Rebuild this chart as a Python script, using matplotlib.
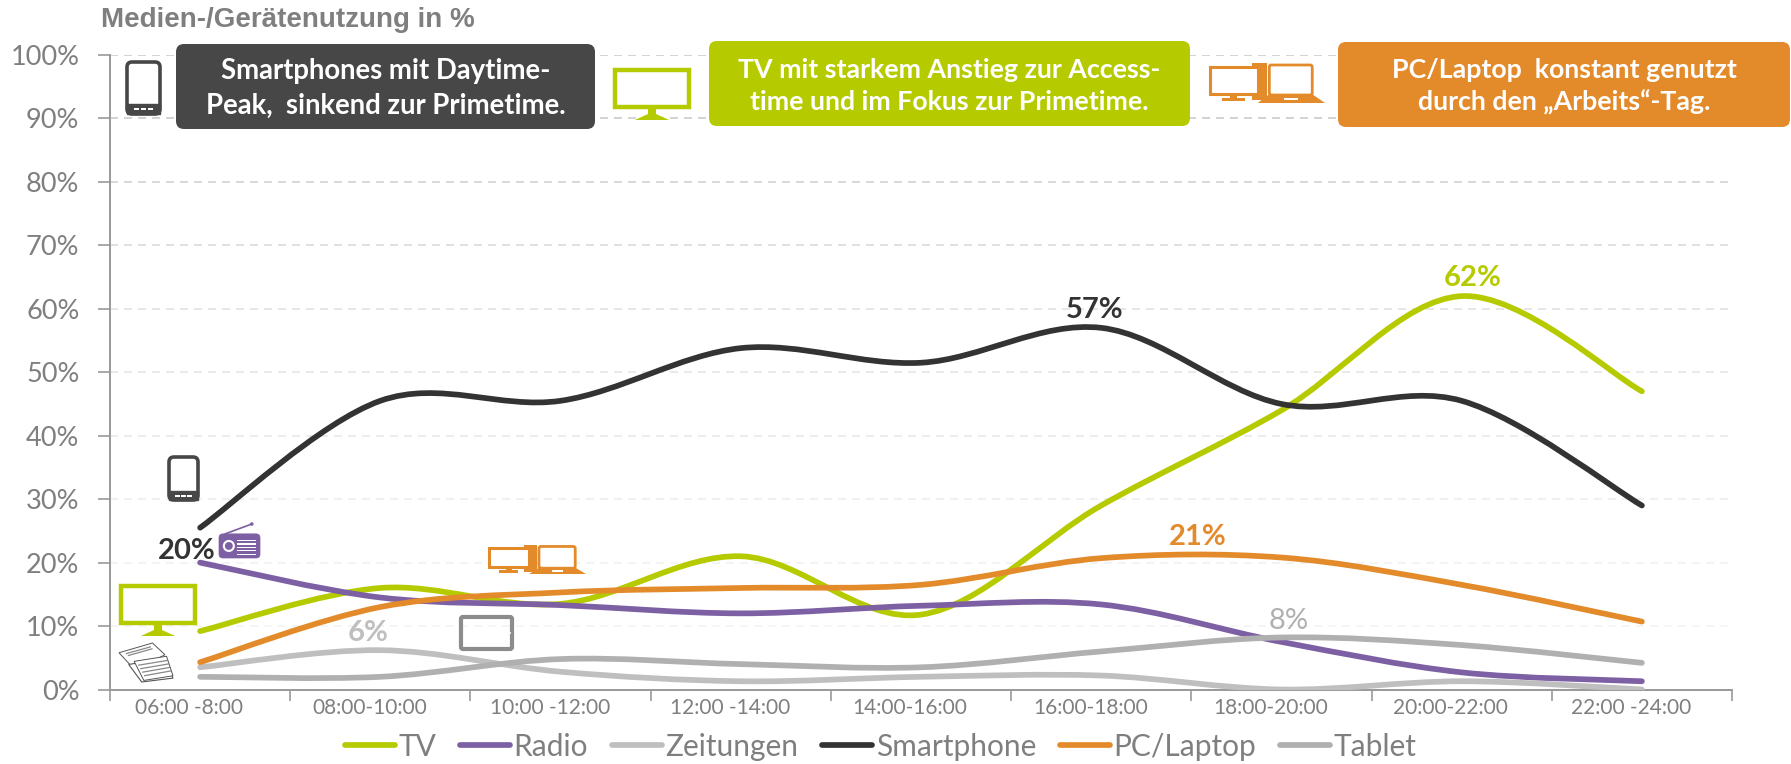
import numpy as np
import matplotlib
matplotlib.use("Agg")
import matplotlib.pyplot as plt
from matplotlib.path import Path
from matplotlib.patches import PathPatch, FancyBboxPatch, Rectangle, Polygon, Circle
from matplotlib.lines import Line2D

W, H = 1791, 764

slots = ["06:00 -8:00", "08:00-10:00", "10:00 -12:00", "12:00 -14:00", "14:00-16:00",
         "16:00-18:00", "18:00-20:00", "20:00-22:00", "22:00 -24:00"]

tv = [9.2, 16, 13.5, 21, 11.8, 29, 44, 62, 47]
radio = [20, 14.5, 13.3, 12, 13.2, 13.4, 7.5, 2.7, 1.3]
zeitungen = [3.5, 6.2, 2.8, 1.3, 2.0, 2.2, 0, 1.3, 0]
smartphone = [25.5, 45.5, 45.5, 53.8, 51.5, 57, 45, 45.5, 29]
pc_laptop = [4.3, 13, 15.3, 16, 16.5, 20.7, 20.8, 16.5, 10.7]
tablet = [2, 2, 4.8, 4, 3.5, 6, 8.2, 7, 4.2]

GREEN = "#B5CB00"
PURPLE = "#7D5FA3"
LIGHT = "#BFBFBF"
DARK = "#333333"
ORANGE = "#E38A2B"
MID = "#B0B0B0"
TXT = "#7F7F7F"

names = ["TV", "Radio", "Zeitungen", "Smartphone", "PC/Laptop", "Tablet"]
series = [tv, radio, zeitungen, smartphone, pc_laptop, tablet]
colors = [GREEN, PURPLE, LIGHT, DARK, ORANGE, MID]

# the grid gets paler towards the bottom in the original
grid_colors = ["#FFFFFF", "#F3F3F3", "#F1F1F1", "#EDEDED", "#E9E9E9", "#E5E5E5", "#E1E1E1", "#DBDBDB", "#D2D2D2",
               "#CCCCCC", "#CCCCCC"]


def smooth_path(xs, ys):
    # same idea as the "smoothed line" of office charts, bezier through the points
    pts = np.column_stack([xs, ys])
    verts = [pts[0]]
    codes = [Path.MOVETO]
    n = len(pts)
    for i in range(n - 1):
        prev = pts[max(i - 1, 0)]
        nxt = pts[min(i + 2, n - 1)]
        verts.append(pts[i] + (pts[i + 1] - prev) / 6)
        verts.append(pts[i + 1] - (nxt - pts[i]) / 6)
        verts.append(pts[i + 1])
        codes += [Path.CURVE4] * 3
    return Path(verts, codes)


fig = plt.figure(figsize=(W / 100, H / 100), dpi=100)
ax = fig.add_axes([110 / W, 1 - 689.5 / H, (1732 - 110) / W, (689.5 - 55) / H])

x = np.arange(len(slots)) + 0.5
for vals, col in zip(series, colors):
    ax.add_patch(PathPatch(smooth_path(x, vals), fc="none", ec=col, lw=4.1, capstyle="round", zorder=3))

ax.set_xlim(0, len(slots))
ax.set_ylim(0, 100)
ax.set_yticks(range(0, 101, 10))
ax.set_yticklabels([f"{v}%" for v in range(0, 101, 10)], family="Lato", fontsize=19.5, color=TXT)
ax.set_xticks(range(len(slots) + 1))
ax.set_xticklabels([])
# labels sit a little left of the points in the original
ax.set_xticks(x - 0.06, minor=True)
ax.set_xticklabels(slots, minor=True, family="Lato", fontsize=15, color=TXT)
ax.tick_params(axis="x", which="minor", length=0, pad=6)
ax.tick_params(axis="x", which="major", length=8, width=1.2, color="#999999")
ax.tick_params(axis="y", length=9, width=1.2, color="#999999", pad=13)
for s in ["top", "right"]:
    ax.spines[s].set_visible(False)
for s in ["left", "bottom"]:
    ax.spines[s].set_color("#999999")
    ax.spines[s].set_linewidth(1.4)
ax.yaxis.grid(True, lw=1.2, ls=(0, (4.8, 3.6)))
for line, c in zip(ax.get_ygridlines(), grid_colors):
    line.set_color(c)
ax.set_axisbelow(True)

handles = [Line2D([], [], color=c, lw=4.1, solid_capstyle="round") for c in colors]
ax.legend(handles, names, loc="upper center", bbox_to_anchor=(0.475, -0.068), ncols=6, frameon=False,
          prop={"family": "Lato", "size": 21.5}, labelcolor=TXT, handlelength=1.67, handletextpad=0.12,
          columnspacing=0.8, borderpad=0, borderaxespad=0)

# overlay in pixels for the boxes, icons and texts
ov = fig.add_axes([0, 0, 1, 1], zorder=5)
ov.set_xlim(0, W)
ov.set_ylim(H, 0)
ov.axis("off")
ov.patch.set_alpha(0)


def box(x0, y0, x1, y1, col, text, size):
    ov.add_patch(FancyBboxPatch((x0 + 8, y0 + 8), x1 - x0 - 16, y1 - y0 - 16, boxstyle="round,pad=8,rounding_size=8",
                                fc=col, ec="none", mutation_aspect=1))
    ov.text((x0 + x1) / 2, (y0 + y1) / 2 + 2, text, color="white", family="Lato", weight="bold", fontsize=size,
            ha="center", va="center", linespacing=1.4)


def rr(x0, y0, w, h, col, lw=3, fill="none", r=4):
    ov.add_patch(FancyBboxPatch((x0 + r, y0 + r), w - 2 * r, h - 2 * r, boxstyle=f"round,pad={r},rounding_size={r}",
                                fc=fill, ec=col, lw=lw))


def phone(x0, y0, w, h, col):
    rr(x0, y0, w, h, col, lw=2.6, r=5)
    ov.add_patch(Rectangle((x0, y0 + h * 0.8), w, h * 0.2, fc=col, ec=col, lw=1))
    for f in [0.28, 0.5, 0.72]:
        ov.add_patch(Rectangle((x0 + w * f - 2.5, y0 + h * 0.89), 5, 2, fc="white", ec="none"))


def monitor(x0, y0, w, h, col):
    sh = h * 0.78
    ov.add_patch(Rectangle((x0 + 2, y0 + 2), w - 4, sh - 4, fc="white", ec=col, lw=3.2))
    cx = x0 + w / 2
    ov.add_patch(Polygon([(cx - 4, y0 + sh), (cx + 4, y0 + sh), (cx + 4, y0 + h - 6), (cx + w * 0.22, y0 + h),
                          (cx - w * 0.22, y0 + h), (cx - 4, y0 + h - 6)], fc=col, ec="none"))


def computers(x0, y0, w, h, col):
    # desktop, tower and laptop
    ov.add_patch(Rectangle((x0 + w * 0.37, y0), w * 0.13, h * 0.93, fc=col, ec="none"))
    ov.add_patch(Rectangle((x0 + 1, y0 + h * 0.1), w * 0.41, h * 0.67, fc="white", ec=col, lw=2.2))
    ov.add_patch(Rectangle((x0 + w * 0.18, y0 + h * 0.77), w * 0.06, h * 0.1, fc=col, ec="none"))
    ov.add_patch(Rectangle((x0 + w * 0.11, y0 + h * 0.87), w * 0.2, h * 0.08, fc=col, ec="none"))
    rr(x0 + w * 0.52, y0 + h * 0.05, w * 0.37, h * 0.75, col, lw=2, fill="white", r=2)
    ov.add_patch(Polygon([(x0 + w * 0.52, y0 + h * 0.78), (x0 + w * 0.89, y0 + h * 0.78), (x0 + w, y0 + h),
                         (x0 + w * 0.42, y0 + h)], fc=col, ec="none"))
    ov.add_patch(Rectangle((x0 + w * 0.65, y0 + h * 0.87), w * 0.12, h * 0.05, fc="white", ec="none"))


def radio_icon(x0, y0, w, h, col):
    top = y0 + h * 0.33
    ov.add_line(Line2D([x0 + w * 0.15, x0 + w * 0.8], [top, y0 + 2], color=col, lw=1.2))
    ov.add_patch(Circle((x0 + w * 0.8, y0 + 2), 1.8, fc=col, ec="none"))
    rr(x0, top, w, y0 + h - top, col, lw=0.5, fill=col, r=4)
    ov.add_patch(Circle((x0 + w * 0.24, top + (y0 + h - top) * 0.5), 5, fc=col, ec="white", lw=1.5))
    for f in [0.28, 0.42, 0.56, 0.7, 0.84]:
        ov.add_patch(Rectangle((x0 + w * 0.45, top + (y0 + h - top) * f - 0.6), w * 0.46, 1.2, fc="white", ec="none"))


def tablet_icon(x0, y0, w, h, col):
    rr(x0 + 1, y0 + 1, w - 2, h - 2, col, lw=3, r=2)
    ov.add_patch(Circle((x0 + w - 3, y0 + h / 2), 1, fc="white", ec="none"))


def newspaper(x0, y0, w, h):
    c = "#555555"
    ov.add_patch(Polygon([(x0, y0 + h * 0.25), (x0 + w * 0.62, y0), (x0 + w * 0.85, y0 + h * 0.3), (x0 + w * 0.3, y0 + h * 0.7)],
                         fc="white", ec=c, lw=0.7))
    ov.add_patch(Polygon([(x0 + w * 0.18, y0 + h * 0.55), (x0 + w * 0.84, y0 + h * 0.4), (x0 + w, y0 + h * 0.9),
                          (x0 + w * 0.42, y0 + h)], fc="white", ec=c, lw=0.8))
    ov.add_patch(Polygon([(x0 + w * 0.28, y0 + h * 0.47), (x0 + w * 0.88, y0 + h * 0.34), (x0 + w, y0 + h * 0.84),
                          (x0 + w * 0.46, y0 + h * 0.96)], fc="white", ec=c, lw=0.7))
    for f in [0.15, 0.35, 0.55, 0.75]:
        ov.add_line(Line2D([x0 + w * (0.34 + f * 0.18), x0 + w * (0.88 + f * 0.1)],
                           [y0 + h * (0.5 + f * 0.45), y0 + h * (0.38 + f * 0.45)], color="#888888", lw=0.9))
    for f in [0.25, 0.5]:
        ov.add_line(Line2D([x0 + w * (0.1 + f * 0.15), x0 + w * (0.55 + f * 0.12)],
                           [y0 + h * (0.22 + f * 0.2), y0 + h * (0.05 + f * 0.2)], color="#888888", lw=0.9))


box(176, 44, 595, 129, "#474747", "Smartphones mit Daytime-\nPeak,  sinkend zur Primetime.", 19.8)
box(709, 41, 1190, 126, GREEN, "TV mit starkem Anstieg zur Access-\ntime und im Fokus zur Primetime.", 19.3)
box(1338, 42, 1790, 127, ORANGE, "PC/Laptop  konstant genutzt\ndurch den \u201eArbeits\u201c-Tag.", 19.3)

phone(127, 62, 33, 52, "#474747")
monitor(613, 68, 78, 52, GREEN)
computers(1209, 63, 116, 40, ORANGE)
phone(169, 457, 29, 43, "#474747")
radio_icon(219, 522, 41, 36, PURPLE)
monitor(119, 584, 78, 52, GREEN)
newspaper(119, 643, 54, 39)
computers(488, 545, 98, 29, ORANGE)
tablet_icon(460, 616, 53, 34, "#8C8C8C")

ov.text(101, 20, "Medien-/Ger\u00e4tenutzung in %", family="Liberation Sans", weight="bold", fontsize=20, color=TXT,
        ha="left", va="center")

labels = [("62%", 1473, 278, GREEN, "bold"), ("57%", 1095, 310, DARK, "bold"), ("21%", 1198, 537, ORANGE, "bold"),
          ("8%", 1289, 621, MID, "normal"), ("6%", 368, 633, LIGHT, "bold"), ("20%", 187, 551, DARK, "bold")]
for txt, px, py, col, wt in labels:
    ov.text(px, py, txt, family="Lato", weight=wt, fontsize=21, color=col, ha="center", va="center")

fig.savefig("out.png", dpi=100)
